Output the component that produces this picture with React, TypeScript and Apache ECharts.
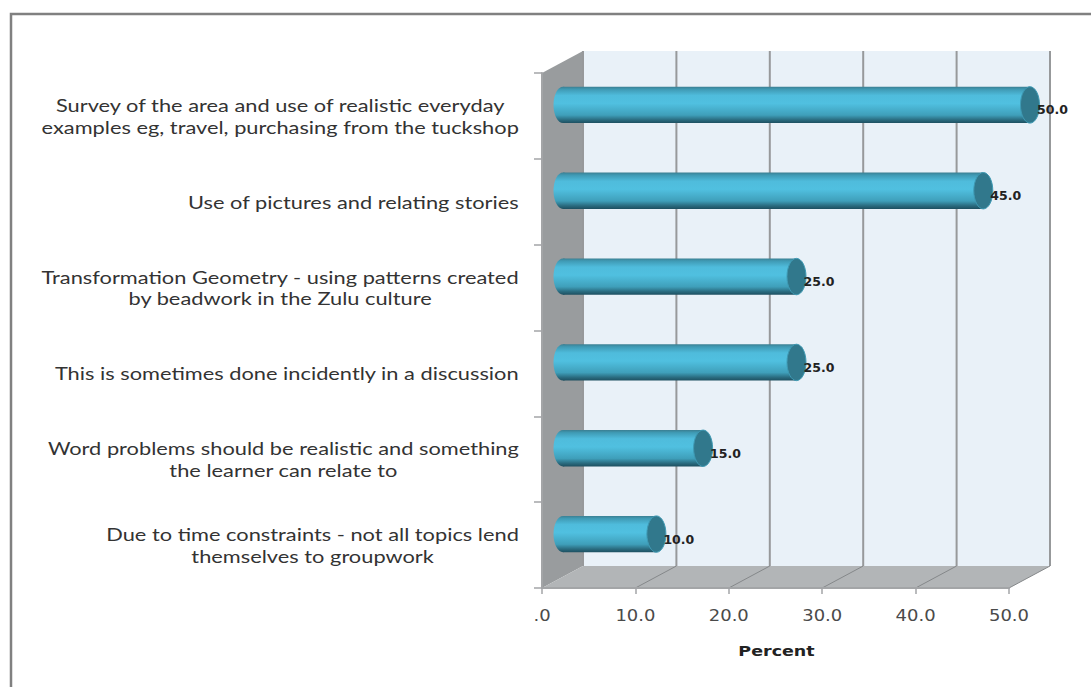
import React, { useEffect, useRef } from "react";
import * as echarts from "echarts";

const categories = [
  "Survey of the area and use of realistic everyday\nexamples eg, travel, purchasing from the tuckshop",
  "Use of pictures and relating stories",
  "Transformation Geometry - using patterns created\nby beadwork in the Zulu culture",
  "This is sometimes done incidently in a discussion",
  "Word problems should be realistic and something\nthe learner can relate to",
  "Due to time constraints - not all topics lend\nthemselves to groupwork",
];
const percentValues = [50, 45, 25, 25, 15, 10];
const tickValues = [0, 10, 20, 30, 40, 50];
const tickLabels = [".0", "10.0", "20.0", "30.0", "40.0", "50.0"];
const axisTitle = "Percent";

// Depth of the pseudo-3D box, and of the plane the cylinders stand in.
const DEPTH_X = 41;
const DEPTH_Y = 22;
const BAR_DX = 21;
const BAR_DY = 11;
const CAP_RX = 9.5;

const FONT = "Lato, sans-serif";
const WIDE_FONT = "'DejaVu Sans', sans-serif";

const bodyGradient = () =>
  new echarts.graphic.LinearGradient(0, 0, 0, 1, [
    { offset: 0, color: "#3b7f92" },
    { offset: 0.07, color: "#3f9ab4" },
    { offset: 0.24, color: "#4fbcdc" },
    { offset: 0.46, color: "#50c0e0" },
    { offset: 0.78, color: "#3f9fba" },
    { offset: 0.91, color: "#2a6c80" },
    { offset: 1, color: "#1d4f60" },
  ]);

function renderWalls(params: any) {
  if (params.dataIndex !== 0) return null;
  const { x, y, width: w, height: h } = params.coordSys;
  return {
    type: "group",
    children: [
      {
        type: "rect",
        shape: { x: x + DEPTH_X, y: y - DEPTH_Y, width: w, height: h },
        style: { fill: "#e9f1f8" },
      },
      {
        type: "polygon",
        shape: {
          points: [
            [x, y],
            [x + DEPTH_X, y - DEPTH_Y],
            [x + DEPTH_X, y + h - DEPTH_Y],
            [x, y + h],
          ],
        },
        style: { fill: "#999c9e" },
      },
      {
        type: "polygon",
        shape: {
          points: [
            [x, y + h],
            [x + DEPTH_X, y + h - DEPTH_Y],
            [x + w + DEPTH_X, y + h - DEPTH_Y],
            [x + w, y + h],
          ],
        },
        style: { fill: "#b2b5b7" },
      },
      // Horizontal axis title, stretched like the rest of the lettering.
      {
        type: "text",
        x: x + w / 2 + 1,
        y: y + h + 63,
        scaleX: 1.25,
        style: {
          text: axisTitle,
          font: `bold 14px ${WIDE_FONT}`,
          fill: "#222222",
          align: "center",
          verticalAlign: "middle",
        },
      },
    ],
  };
}

function renderGridLine(params: any, api: any) {
  const { y, height: h } = params.coordSys;
  const tick = api.value(0);
  const px = api.coord([tick, 0])[0];
  const lineStyle = { stroke: "#97999b", lineWidth: 2 };
  const floorStyle = { stroke: "#85888a", lineWidth: 1 };
  const children: any[] = [
    {
      type: "line",
      shape: { x1: px + DEPTH_X, y1: y - DEPTH_Y, x2: px + DEPTH_X, y2: y + h - DEPTH_Y },
      style: lineStyle,
    },
    {
      type: "text",
      x: px,
      y: y + h + 27,
      scaleX: 1.16,
      style: {
        text: tickLabels[tickValues.indexOf(tick)],
        font: `15.5px ${WIDE_FONT}`,
        fill: "#4a4a4a",
        align: "center",
        verticalAlign: "middle",
      },
    },
  ];
  if (tick > 0) {
    children.push({
      type: "line",
      shape: { x1: px, y1: y + h, x2: px + DEPTH_X, y2: y + h - DEPTH_Y },
      style: floorStyle,
    });
  }
  return { type: "group", children };
}

// Category captions: lines are centred on each other, the block sits right-aligned.
function renderCaption(params: any, api: any) {
  const index = api.value(1);
  const cy = api.coord([0, index])[1];
  return {
    type: "text",
    x: params.coordSys.x - 23,
    y: cy + 0.5,
    scaleX: 1.322,
    style: {
      text: categories[index]
        .split("\n")
        .map((line) => `{t|${line}}`)
        .join("\n"),
      rich: {
        t: {
          align: "center",
          fontFamily: FONT,
          fontSize: 16.5,
          lineHeight: 21.5,
          fill: "#333333",
        },
      },
      align: "right",
      verticalAlign: "middle",
    },
  };
}

function renderCylinder(_params: any, api: any) {
  const value = api.value(0);
  const [endX, centerY] = api.coord([value, api.value(1)]);
  const startX = api.coord([0, api.value(1)])[0] + BAR_DX;
  const cx = endX + BAR_DX;
  const cy = centerY - BAR_DY;
  const ry = api.size([0, 1])[1] * 0.212;
  return {
    type: "group",
    children: [
      {
        type: "ellipse",
        shape: { cx: startX, cy, rx: CAP_RX, ry },
        style: { fill: bodyGradient() },
      },
      {
        type: "rect",
        shape: { x: startX, y: cy - ry, width: cx - startX, height: ry * 2 },
        style: { fill: bodyGradient() },
      },
      {
        type: "ellipse",
        shape: { cx, cy, rx: CAP_RX, ry },
        style: { fill: "#31788c", stroke: "#3f9ab4", lineWidth: 1 },
      },
      {
        type: "text",
        style: {
          x: cx + CAP_RX - 2.5,
          y: cy + 5,
          text: value.toFixed(1),
          fill: "#222222",
          font: `bold 12.5px ${WIDE_FONT}`,
          textAlign: "left",
          textVerticalAlign: "middle",
        },
      },
    ],
  };
}

export default function App() {
  const ref = useRef<HTMLDivElement>(null);

  useEffect(() => {
    const chart = echarts.init(ref.current!, undefined, { renderer: "svg" });
    chart.setOption({
      animation: false,
      backgroundColor: "#ffffff",
      grid: { left: 542, right: 82, top: 73, bottom: 99, containLabel: false },
      graphic: [
        {
          type: "polyline",
          silent: true,
          z: 100,
          shape: { points: [[11, 687], [11, 14], [1091, 14]] },
          style: { stroke: "#808080", lineWidth: 2.5, fill: "none" },
        },
      ],
      xAxis: {
        type: "value",
        min: 0,
        max: 50,
        interval: 10,
        z: 10,
        splitLine: { show: false },
        axisLine: { show: true, lineStyle: { color: "#a3a5a7", width: 2 } },
        axisTick: { show: true, length: 6, lineStyle: { color: "#a3a5a7", width: 1.5 } },
        axisLabel: { show: false },
      },
      yAxis: {
        type: "category",
        inverse: true,
        data: categories,
        z: 10,
        axisLine: { show: true, lineStyle: { color: "#a3a5a7", width: 2 } },
        axisTick: { show: true, length: 8, lineStyle: { color: "#a3a5a7", width: 1.5 } },
        splitLine: { show: false },
        axisLabel: { show: false },
      },
      series: [
        {
          type: "custom",
          name: "walls",
          z: 1,
          silent: true,
          clip: false,
          data: [[0, 0]],
          renderItem: renderWalls,
        },
        {
          type: "custom",
          name: "gridlines",
          z: 2,
          silent: true,
          clip: false,
          data: tickValues.map((v) => [v, 0]),
          encode: { x: 0, y: 1 },
          renderItem: renderGridLine,
        },
        {
          type: "custom",
          name: "captions",
          z: 2,
          silent: true,
          clip: false,
          data: categories.map((_c, i) => [0, i]),
          encode: { x: 0, y: 1 },
          renderItem: renderCaption,
        },
        {
          type: "custom",
          name: "Percent",
          z: 3,
          silent: true,
          clip: false,
          data: percentValues.map((v, i) => [v, i]),
          encode: { x: 0, y: 1 },
          renderItem: renderCylinder,
        },
      ],
    });
    return () => chart.dispose();
  }, []);

  return (
    <div
      ref={ref}
      style={{ position: "absolute", left: 0, top: 0, width: 1091, height: 687 }}
    />
  );
}
